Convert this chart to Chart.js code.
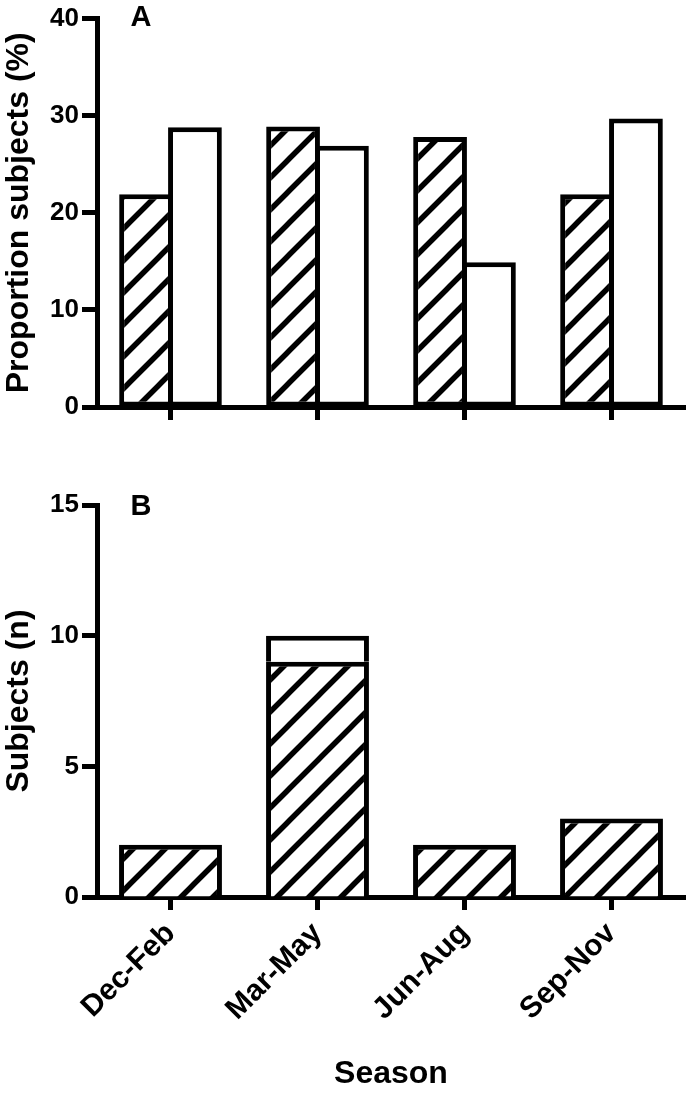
<!DOCTYPE html>
<html>
<head>
<meta charset="utf-8">
<script src="https://cdn.jsdelivr.net/npm/chart.js@4"></script>
<style>
  body { margin: 0; background: #fff; }
  #wrap { position: relative; width: 693px; height: 1093px; }
  canvas { position: absolute; left: 0; }
  #graficoA { top: 0; }
  #graficoB { top: 470px; }
</style>
</head>
<body>
<div id="wrap">
  <canvas id="graficoA" width="693" height="430"></canvas>
  <canvas id="graficoB" width="693" height="623"></canvas>
</div>
<script>
// dados
const estacoes = ['Dec-Feb', 'Mar-May', 'Jun-Aug', 'Sep-Nov'];
const propHachurado = [21.9, 28.9, 27.8, 21.9];
const propBranco = [28.8, 26.9, 14.9, 29.7];
const nHachurado = [2, 9, 2, 3];
const nBranco = [null, 1, null, null];
const ticksA = [0, 10, 20, 30, 40];
const ticksB = [0, 5, 10, 15];

const fonte = "'Liberation Sans', Arial, sans-serif";
Chart.defaults.font.family = fonte;
Chart.defaults.font.weight = 'bold';
Chart.defaults.color = '#000';

// padrão de hachura diagonal
function hachura() {
    const s = 32;
    const c = document.createElement('canvas');
    c.width = s; c.height = s;
    const g = c.getContext('2d');
    g.fillStyle = '#fff';
    g.fillRect(0, 0, s, s);
    g.strokeStyle = '#000';
    g.lineWidth = 5.5;
    g.beginPath();
    g.moveTo(-s / 2, s / 2); g.lineTo(s / 2, -s / 2);
    g.moveTo(0, s); g.lineTo(s, 0);
    g.moveTo(s / 2, s * 1.5); g.lineTo(s * 1.5, s / 2);
    g.stroke();
    return g.createPattern(c, 'repeat');
}
const padrao = hachura();

function letra(txt, y) {
    return {
        id: 'letra' + txt,
        afterDraw(chart) {
            const ctx = chart.ctx;
            ctx.save();
            ctx.font = 'bold 29px ' + fonte;
            ctx.fillStyle = '#000';
            ctx.textAlign = 'center';
            ctx.textBaseline = 'middle';
            ctx.fillText(txt, 141, y);
            ctx.restore();
        }
    };
}

function eixoY(max, passo, valores, titulo) {
    return {
        min: 0, max: max,
        afterFit: s => { s.width = 97; },
        afterBuildTicks: s => { s.ticks = valores.map(v => ({ value: v })); },
        ticks: { stepSize: passo, padding: 3, font: { size: 26, weight: 'bold' } },
        grid: { drawOnChartArea: false, drawTicks: true, tickLength: 15, tickWidth: 5, tickColor: '#000' },
        border: { display: true, color: '#000', width: 5 },
        title: { display: true, text: titulo, padding: 0, font: { size: 32, weight: 'bold' } }
    };
}

// Gráfico A
const ctxA = document.getElementById('graficoA').getContext('2d');
const graficoA = new Chart(ctxA, {
    type: 'bar',
    data: {
        labels: estacoes,
        datasets: [{
            data: propHachurado,
            backgroundColor: padrao,
            borderColor: '#000',
            borderWidth: 5,
            borderSkipped: false
        }, {
            data: propBranco,
            backgroundColor: '#fff',
            borderColor: '#000',
            borderWidth: 5,
            borderSkipped: false
        }]
    },
    options: {
        responsive: false,
        animation: false,
        devicePixelRatio: 1,
        layout: { padding: { top: 15, right: 8, left: 0, bottom: 0 } },
        datasets: { bar: { categoryPercentage: 0.665, barPercentage: 1.1 } },
        plugins: { legend: { display: false }, tooltip: { enabled: false } },
        scales: {
            x: {
                afterFit: s => { s.height = 23; },
                ticks: { display: false },
                grid: { offset: false, drawOnChartArea: false, drawTicks: true, tickLength: 13, tickWidth: 5, tickColor: '#000' },
                border: { display: true, color: '#000', width: 5 }
            },
            y: eixoY(40, 10, ticksA, 'Proportion subjects (%)')
        }
    },
    plugins: [letra('A', 18)]
});

// Gráfico B
const ctxB = document.getElementById('graficoB').getContext('2d');
const graficoB = new Chart(ctxB, {
    type: 'bar',
    data: {
        labels: estacoes,
        datasets: [{
            data: nHachurado,
            backgroundColor: padrao,
            borderColor: '#000',
            borderWidth: 5
        }, {
            data: nBranco,
            backgroundColor: '#fff',
            borderColor: '#000',
            borderWidth: 5
        }]
    },
    options: {
        responsive: false,
        animation: false,
        devicePixelRatio: 1,
        layout: { padding: { top: 35, right: 8, left: 0, bottom: 0 } },
        datasets: { bar: { categoryPercentage: 0.7, barPercentage: 1 } },
        plugins: { legend: { display: false }, tooltip: { enabled: false } },
        scales: {
            x: {
                stacked: true,
                afterFit: s => { s.height = 196; },
                ticks: { minRotation: 45, maxRotation: 45, padding: 6, font: { size: 30, weight: 'bold' } },
                grid: { offset: false, drawOnChartArea: false, drawTicks: true, tickLength: 13, tickWidth: 5, tickColor: '#000' },
                border: { display: true, color: '#000', width: 5 },
                title: { display: true, text: 'Season', padding: 0, font: { size: 32, weight: 'bold' } }
            },
            y: Object.assign(eixoY(15, 5, ticksB, 'Subjects (n)'), { stacked: true })
        }
    },
    plugins: [letra('B', 37)]
});
</script>
</body>
</html>
